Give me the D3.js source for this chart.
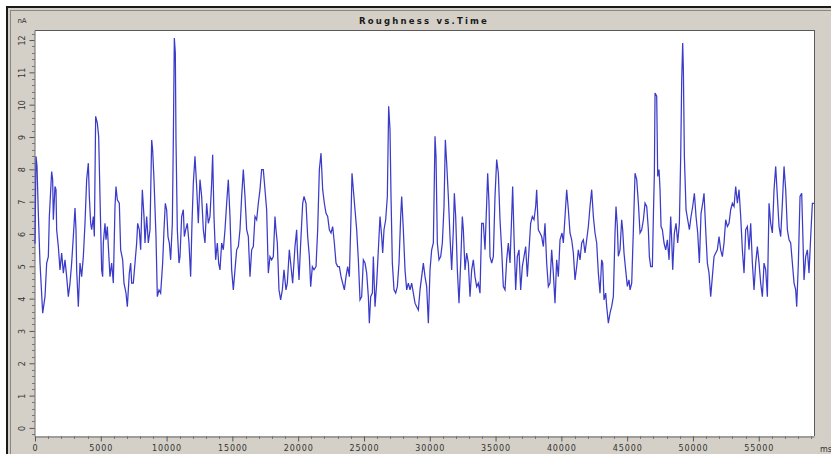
<!DOCTYPE html>
<html>
<head>
<meta charset="utf-8">
<script src="https://cdn.jsdelivr.net/npm/d3@7"></script>
<style>
  html, body { margin: 0; padding: 0; background: #ffffff; }
  svg { display: block; }
</style>
</head>
<body>
<svg id="chart" width="831" height="454"></svg>
<script>
// ---------- data ----------
const chartTitle = "Roughness vs.Time";
const yUnit = "nA";
const xUnit = "ms";

const timesMs = [
0,76,152,253,380,583,760,887,1013,1089,1266,1342,1393,1520,1596,1646,1773,1900,2026,2153,
2280,2406,2533,2660,2786,2913,3040,3115,3166,3293,3420,3546,3673,3800,3926,4053,4129,4230,4306,4433,
4509,4610,4737,4838,4939,5066,5142,5193,5319,5395,5497,5573,5699,5826,5953,6079,6155,6256,6408,6510,
6662,6763,6915,7016,7168,7270,7346,7472,7599,7726,7802,7928,8030,8156,8283,8359,8486,8612,8739,8866,
8941,9043,9195,9296,9423,9550,9701,9803,9904,10005,10107,10208,10309,10436,10512,10588,10664,10715,10816,10943,
11019,11145,11272,11348,11449,11576,11703,11829,11930,12032,12158,12285,12412,12538,12665,12792,12918,13045,13172,13298,
13425,13501,13602,13729,13855,13957,14058,14185,14311,14438,14565,14691,14818,14945,15071,15198,15325,15451,15578,15705,
15831,15958,16085,16211,16338,16465,16591,16718,16844,16971,17098,17224,17351,17478,17604,17731,17858,17984,18111,18238,
18313,18415,18542,18668,18795,18921,19073,19175,19327,19428,19580,19757,19884,19937,20064,20191,20343,20444,20596,20722,
20849,20950,21077,21204,21356,21482,21609,21736,21862,21989,22116,22242,22369,22496,22622,22749,22876,23002,23129,23256,
23382,23509,23636,23762,23889,24015,24091,24193,24319,24446,24573,24699,24826,24953,25079,25206,25333,25409,25510,25637,
25713,25839,25966,26093,26219,26346,26422,26523,26650,26776,26877,26979,27055,27156,27283,27410,27536,27663,27790,27866,
27992,28119,28246,28372,28499,28626,28752,28879,29005,29132,29259,29385,29512,29639,29765,29892,30019,30145,30272,30399,
30475,30576,30703,30830,30956,31083,31184,31285,31412,31538,31665,31792,31868,31969,32096,32222,32349,32476,32552,32678,
32805,32932,33058,33185,33312,33438,33565,33691,33818,33945,34071,34198,34325,34401,34502,34578,34705,34831,34958,35085,
35211,35338,35465,35591,35718,35845,35971,36098,36224,36300,36402,36528,36655,36782,36908,37035,37162,37288,37415,37542,
37668,37795,37922,38048,38124,38251,38378,38504,38631,38758,38884,39011,39138,39264,39391,39517,39644,39771,39899,40051,
40152,40279,40405,40532,40659,40785,40912,41039,41165,41292,41419,41545,41672,41798,41925,42052,42178,42305,42432,42558,
42685,42812,42938,43065,43141,43242,43369,43445,43572,43698,43825,43952,44078,44154,44255,44331,44458,44585,44660,44762,
44888,45015,45142,45220,45347,45473,45600,45727,45853,45980,46107,46233,46360,46487,46613,46689,46790,46917,46993,47069,
47120,47246,47322,47424,47500,47576,47677,47804,47930,48057,48184,48310,48386,48462,48589,48716,48842,48969,49070,49146,
49222,49273,49349,49475,49602,49729,49855,49982,50109,50235,50362,50489,50615,50742,50843,50969,51096,51223,51349,51476,
51603,51729,51856,51983,52109,52236,52363,52489,52616,52743,52869,52996,53123,53249,53376,53503,53629,53756,53883,54009,
54136,54263,54389,54516,54643,54769,54896,55023,55149,55276,55403,55529,55656,55783,55909,56036,56163,56289,56416,56543,
56669,56796,56923,57049,57176,57303,57429,57556,57683,57809,57885,58012,58138,58265,58341,58442,58569,58696,58822,58949,
59076,59202
];

const roughnessNA = [
5.70,8.40,8.10,6.64,5.10,3.55,4.06,5.10,5.30,6.54,7.93,7.68,6.44,7.47,7.37,6.13,5.61,4.89,5.41,4.79,
5.20,4.68,4.06,4.48,5.10,5.92,6.80,6.13,4.89,3.75,5.10,4.68,5.30,6.33,7.68,8.19,7.16,6.33,6.13,6.54,
5.92,9.64,9.43,9.02,7.16,4.89,4.68,5.72,6.33,5.82,6.23,5.61,4.68,5.10,4.48,6.85,7.47,7.06,6.95,5.51,
5.20,4.48,4.17,3.75,4.79,5.10,4.48,4.48,5.10,5.72,6.33,6.13,5.51,7.37,6.54,5.72,6.54,5.72,6.13,8.91,
8.60,7.68,5.92,4.06,4.27,4.17,5.10,6.13,6.95,6.75,5.92,5.72,5.20,6.33,8.91,12.06,11.60,8.91,6.13,5.10,
5.30,6.54,6.75,5.92,6.13,6.33,5.72,4.68,6.33,7.57,8.40,7.47,6.33,7.68,7.16,6.13,5.72,6.95,6.33,6.54,
7.57,8.45,6.54,5.20,5.72,5.10,4.89,5.72,5.51,6.13,6.95,7.68,6.54,4.89,4.27,4.89,5.51,5.61,6.13,7.16,
7.99,7.16,6.13,5.92,4.68,5.51,5.61,6.54,6.44,6.95,7.37,7.99,7.99,7.37,6.75,4.79,5.30,5.20,5.30,6.54,
6.13,5.72,4.27,3.96,4.27,4.89,4.27,4.48,5.51,5.10,4.48,5.61,6.13,5.51,4.58,5.72,6.95,7.16,6.95,5.92,
5.30,4.37,4.99,4.89,4.99,6.13,7.99,8.50,7.37,6.95,6.64,6.54,6.13,6.03,6.23,5.72,5.10,4.99,4.99,4.68,
4.48,4.27,4.68,4.99,4.68,6.54,7.88,7.37,6.75,6.13,5.20,3.96,4.06,5.20,5.10,4.79,4.06,3.24,4.06,4.17,
5.30,3.75,4.48,5.51,6.54,5.92,5.41,6.13,6.44,7.16,9.95,9.22,7.16,5.10,4.27,4.17,4.37,5.10,6.54,7.16,
6.13,4.89,4.27,4.48,4.27,4.48,4.17,3.86,3.75,3.65,4.27,4.68,5.10,4.68,4.37,3.24,4.89,5.51,5.72,9.02,
8.40,5.72,5.20,5.30,5.72,6.85,8.91,8.19,7.16,5.92,4.89,6.13,7.26,6.54,4.89,3.86,5.10,6.54,6.13,4.89,
5.41,5.10,4.06,4.89,5.20,4.68,4.37,4.48,4.17,6.33,6.33,5.51,6.95,7.88,6.95,5.30,5.10,5.30,7.16,8.30,
7.88,6.44,5.51,4.37,4.27,5.20,5.72,5.10,6.54,7.47,5.92,4.27,5.30,5.51,4.27,4.99,5.30,5.61,4.68,5.51,
6.33,6.54,6.44,6.85,7.37,6.13,6.03,5.92,5.61,6.33,5.10,4.37,4.48,5.51,4.79,3.86,5.20,4.68,5.82,6.03,
5.72,6.54,7.37,6.75,6.03,5.82,5.41,4.58,4.99,5.51,5.20,5.72,5.82,5.41,5.82,6.23,6.85,7.37,6.54,6.03,
5.72,4.79,4.17,5.20,5.10,3.96,4.17,3.76,3.24,3.55,3.76,4.07,6.03,6.85,6.23,5.31,5.51,6.44,6.13,5.41,
4.89,4.38,4.58,4.27,4.48,6.13,7.88,7.68,6.95,6.03,6.13,6.44,6.95,6.85,6.13,5.30,4.99,4.99,6.54,7.88,
10.36,10.26,7.78,7.99,7.37,6.23,6.13,5.72,5.51,5.82,5.20,6.54,5.82,4.89,6.03,6.33,5.72,6.33,8.40,10.77,
11.91,11.08,8.40,6.75,6.44,6.13,6.54,6.85,7.26,6.54,6.03,5.10,6.64,6.95,7.26,6.13,5.10,4.79,4.06,4.68,
5.30,5.41,5.51,5.92,5.51,5.30,5.72,6.44,6.23,6.33,6.75,6.95,6.85,7.47,6.95,7.37,6.54,5.51,4.79,6.13,
6.23,5.51,6.33,5.10,4.27,5.10,5.61,5.10,4.48,4.06,5.10,4.89,4.06,6.95,6.33,6.03,7.37,8.09,7.16,6.23,
5.92,6.95,8.09,7.37,6.13,5.82,5.72,5.10,4.48,4.27,3.75,5.10,7.16,7.26,6.13,4.58,5.30,5.51,4.79,5.92,
6.95,6.95
];

const yTickValues = [0,1,2,3,4,5,6,7,8,9,10,11,12];
const yTickLabels = ["0","1","2","3","4","5","6","7","8","9","10","11","12"];
const xTickValues = [0,5000,10000,15000,20000,25000,30000,35000,40000,45000,50000,55000];
const xTickLabels = ["0","5000","10000","15000","20000","25000","30000","35000","40000","45000","50000","55000"];

// ---------- layout ----------
const W = 831, H = 454;
const plot = { left: 35, right: 814, top: 30, bottom: 436 };
const svg = d3.select("#chart");

// outer frame
svg.append("rect").attr("x", 0).attr("y", 0).attr("width", W).attr("height", H).attr("fill", "#ffffff");
svg.append("rect").attr("x", 6).attr("y", 6).attr("width", W - 6).attr("height", H - 6).attr("fill", "#1a1a1a");
svg.append("rect").attr("x", 8).attr("y", 8).attr("width", W - 8).attr("height", H - 8).attr("fill", "#d4d0c8");
svg.append("line").attr("x1", 10.5).attr("x2", 10.5).attr("y1", 10).attr("y2", H).attr("stroke", "#8a8780");
svg.append("line").attr("x1", 10).attr("x2", W).attr("y1", 10.5).attr("y2", 10.5).attr("stroke", "#8a8780");

// title
svg.append("text")
  .attr("x", 424).attr("y", 24)
  .attr("text-anchor", "middle")
  .attr("font-family", "DejaVu Sans, sans-serif")
  .attr("font-size", 8.5).attr("font-weight", "bold")
  .attr("letter-spacing", 2.2)
  .attr("fill", "#1a1a1a")
  .text(chartTitle);

// plot background
svg.append("rect")
  .attr("x", plot.left).attr("y", plot.top)
  .attr("width", plot.right - plot.left).attr("height", plot.bottom - plot.top)
  .attr("fill", "#ffffff");

// scales
const x = d3.scaleLinear().domain([0, 59200]).range([plot.left, plot.right]);
const y = d3.scaleLinear().domain([-0.25, 12.31]).range([plot.bottom, plot.top]);

// plot border lines
svg.append("line").attr("x1", plot.left).attr("x2", plot.right).attr("y1", plot.top + 0.5).attr("y2", plot.top + 0.5).attr("stroke", "#5a5a5a");
svg.append("line").attr("x1", plot.right + 0.5).attr("x2", plot.right + 0.5).attr("y1", plot.top).attr("y2", plot.bottom).attr("stroke", "#5a5a5a");

// y axis
const yAxis = d3.axisLeft(y)
  .tickValues(yTickValues)
  .tickFormat((d, i) => yTickLabels[i])
  .tickSize(5).tickSizeOuter(0);
const gy = svg.append("g").attr("transform", `translate(${plot.left - 0.5},0)`).call(yAxis);
gy.select(".domain").attr("stroke", "#6a6a6a");
gy.selectAll(".tick line").attr("stroke", "#555");
gy.selectAll(".tick text")
  .attr("font-family", "DejaVu Sans, sans-serif")
  .attr("font-size", 8)
  .attr("fill", "#333")
  .attr("text-anchor", "middle")
  .attr("x", 0).attr("dy", 0)
  .attr("transform", "translate(-12,0) rotate(-90)")
  .attr("dominant-baseline", "central");

// y minor ticks
const yMinor = d3.range(-0.2, 12.3, 0.2).filter(v => Math.abs(v - Math.round(v)) > 0.01);
svg.append("g").selectAll("line").data(yMinor).join("line")
  .attr("x1", plot.left - 3).attr("x2", plot.left)
  .attr("y1", d => Math.round(y(d)) + 0.5).attr("y2", d => Math.round(y(d)) + 0.5)
  .attr("stroke", "#777");

// x axis
const xAxis = d3.axisBottom(x)
  .tickValues(xTickValues)
  .tickFormat((d, i) => xTickLabels[i])
  .tickSize(5).tickSizeOuter(0);
const gx = svg.append("g").attr("transform", `translate(0,${plot.bottom + 0.5})`).call(xAxis);
gx.select(".domain").attr("stroke", "#6a6a6a");
gx.selectAll(".tick line").attr("stroke", "#555");
gx.selectAll(".tick text")
  .attr("font-family", "DejaVu Sans, sans-serif")
  .attr("font-size", 8)
  .attr("letter-spacing", 0.9)
  .attr("fill", "#333")
  .attr("y", 9);

// x minor ticks
const xMinor = d3.range(1000, 59200, 1000).filter(v => v % 5000 !== 0);
svg.append("g").selectAll("line").data(xMinor).join("line")
  .attr("x1", d => Math.round(x(d)) + 0.5).attr("x2", d => Math.round(x(d)) + 0.5)
  .attr("y1", plot.bottom).attr("y2", plot.bottom + 3)
  .attr("stroke", "#777");

// unit labels
svg.append("text").attr("x", 22).attr("y", 23)
  .attr("text-anchor", "middle")
  .attr("font-family", "DejaVu Sans, sans-serif").attr("font-size", 7)
  .attr("fill", "#333").text(yUnit);
svg.append("text").attr("x", 826).attr("y", 452)
  .attr("text-anchor", "middle")
  .attr("font-family", "DejaVu Sans, sans-serif").attr("font-size", 8)
  .attr("fill", "#333").text(xUnit);

// line
const series = timesMs.map((t, i) => ({ t, v: roughnessNA[i] }));
const line = d3.line().x(d => x(d.t)).y(d => y(d.v));
svg.append("path")
  .datum(series)
  .attr("d", line)
  .attr("fill", "none")
  .attr("stroke", "#3b3bc9")
  .attr("stroke-width", 1.25)
  .attr("stroke-linejoin", "miter");
</script>
</body>
</html>
